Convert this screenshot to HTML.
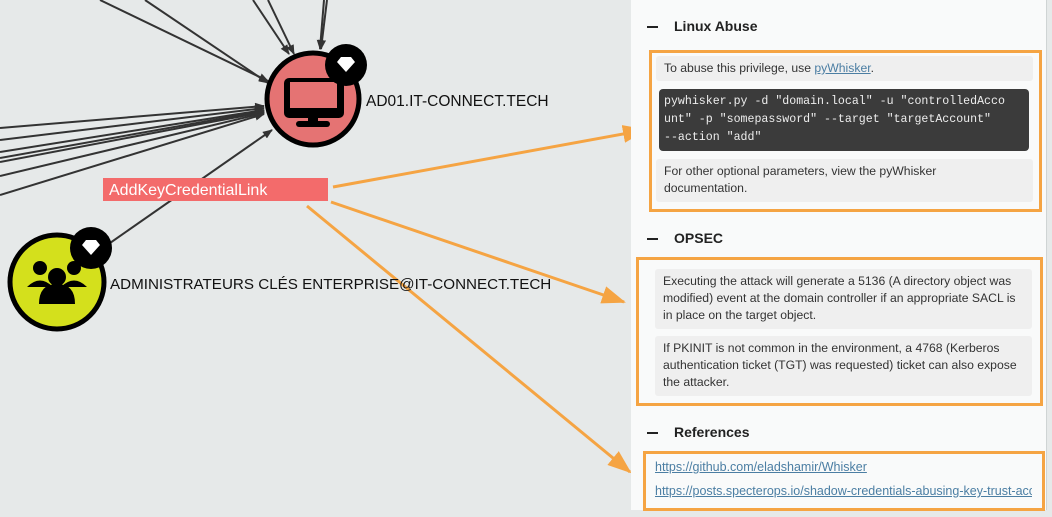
<!DOCTYPE html>
<html><head><meta charset="utf-8"><style>
body{margin:0;width:1052px;height:517px;background:#e6e9e9;position:relative;overflow:hidden;font-family:"Liberation Sans",sans-serif}
#panel{position:absolute;left:631px;top:0;width:415px;height:510px;background:#f9fafa;border-right:1px solid #cfd4d4}
.h{position:absolute;left:16px;font-weight:bold;font-size:14px;color:#222}
.h b{display:inline-block;width:11px;height:2px;background:#222;vertical-align:middle;margin-right:16px}
.ob{position:absolute;border:3px solid #f5a443;box-sizing:border-box}
.bub{position:absolute;background:#efefef;font-size:12.2px;color:#333;line-height:17px;padding:4px 8px;box-sizing:border-box;border-radius:3px}
a{color:#4b7ea3;text-decoration:underline}
.code{position:absolute;background:#3b3b3b;color:#eee;font-family:"Liberation Mono",monospace;font-size:11.6px;line-height:18px;padding:4px 5px;box-sizing:border-box;border-radius:4px;white-space:pre}
</style></head><body>
<svg width="1052" height="517" style="position:absolute;left:0;top:0">
<defs>
<marker id="a" markerWidth="10" markerHeight="8" refX="9" refY="4" orient="auto" markerUnits="userSpaceOnUse"><path d="M0,0 L10,4 L0,8z" fill="#333"/></marker>
<marker id="o" markerWidth="24" markerHeight="18" refX="22" refY="9" orient="auto" markerUnits="userSpaceOnUse"><path d="M0,0 L24,9 L0,18z" fill="#f5a443"/></marker>
</defs>
<g stroke="#333" stroke-width="2" fill="none" marker-end="url(#a)">
<line x1="100" y1="0" x2="268" y2="81"/><line x1="145" y1="0" x2="268" y2="83"/>
<line x1="253" y1="0" x2="289" y2="54"/><line x1="268" y1="0" x2="294" y2="54"/>
<line x1="324" y1="0" x2="320" y2="49"/><line x1="327" y1="0" x2="321" y2="49"/>
<line x1="0" y1="128" x2="264" y2="106"/><line x1="0" y1="140" x2="264" y2="108"/>
<line x1="0" y1="152" x2="264" y2="110"/><line x1="0" y1="158" x2="264" y2="111"/>
<line x1="0" y1="162" x2="264" y2="112"/><line x1="0" y1="176" x2="264" y2="113"/>
<line x1="0" y1="195" x2="264" y2="114"/>
<line x1="110" y1="243" x2="272" y2="130"/>
</g>
<g stroke="#f5a443" stroke-width="3" fill="none" marker-end="url(#o)">
<line x1="333" y1="187" x2="645" y2="130"/>
<line x1="331" y1="202" x2="624" y2="302"/>
<line x1="307" y1="206" x2="630" y2="472"/>
</g>
<circle cx="313" cy="99" r="46" fill="#e57373" stroke="#000" stroke-width="5"/>
<rect x="284" y="78" width="60" height="40" rx="5" fill="#000"/><rect x="290" y="82" width="47" height="26" fill="#e57373"/>
<rect x="308" y="118" width="10" height="6" fill="#000"/><rect x="296" y="121" width="34" height="6" rx="3" fill="#000"/>
<circle cx="346" cy="65" r="21" fill="#000"/><path d="M337,62 L341,57 L351,57 L355,62 L346,72z" fill="#fff"/>
<circle cx="57" cy="282" r="47" fill="#d4e01c" stroke="#000" stroke-width="5"/>
<g fill="#000"><circle cx="40" cy="268" r="7"/><circle cx="74" cy="268" r="7"/><circle cx="57" cy="277" r="9"/>
<path d="M27,287 q13,-13 26,0z"/><path d="M61,287 q13,-13 26,0z"/><path d="M39,304 q0,-20 18,-20 q18,0 18,20z"/></g>
<circle cx="91" cy="248" r="21" fill="#000"/><path d="M82,245 L86,240 L96,240 L100,245 L91,255z" fill="#fff"/>
<rect x="103" y="178" width="225" height="23" fill="#f36b6b"/>
<text x="109" y="195" fill="#fff" font-size="16" font-family="Liberation Sans">AddKeyCredentialLink</text>
<text x="366" y="106" font-size="15.5" fill="#111" font-family="Liberation Sans">AD01.IT-CONNECT.TECH</text>
<text x="110" y="289" font-size="15.2" fill="#111" font-family="Liberation Sans">ADMINISTRATEURS CLÉS ENTERPRISE@IT-CONNECT.TECH</text>
</svg>
<div id="panel">
<div class="h" style="top:18px"><b></b>Linux Abuse</div>
<div class="ob" style="left:18px;top:50px;width:393px;height:162px"></div>
<div class="bub" style="left:25px;top:56px;width:377px;height:25px">To abuse this privilege, use <a>pyWhisker</a>.</div>
<div class="code" style="left:28px;top:89px;width:370px;height:62px">pywhisker.py -d "domain.local" -u "controlledAcco
unt" -p "somepassword" --target "targetAccount"
--action "add"</div>
<div class="bub" style="left:25px;top:159px;width:377px;height:43px;padding-right:90px">For other optional parameters, view the pyWhisker documentation.</div>
<div class="h" style="top:230px"><b></b>OPSEC</div>
<div class="ob" style="left:5px;top:257px;width:407px;height:149px"></div>
<div class="bub" style="left:24px;top:269px;width:377px;height:60px">Executing the attack will generate a 5136 (A directory object was modified) event at the domain controller if an appropriate SACL is in place on the target object.</div>
<div class="bub" style="left:24px;top:336px;width:377px;height:60px">If PKINIT is not common in the environment, a 4768 (Kerberos authentication ticket (TGT) was requested) ticket can also expose the attacker.</div>
<div class="h" style="top:424px"><b></b>References</div>
<div class="ob" style="left:12px;top:451px;width:402px;height:60px"></div>
<div style="position:absolute;left:24px;top:460px;font-size:12.5px;white-space:nowrap;width:377px;overflow:hidden"><a>https://github.com/eladshamir/Whisker</a></div>
<div style="position:absolute;left:24px;top:484px;font-size:12.5px;white-space:nowrap;width:377px;overflow:hidden"><a>https://posts.specterops.io/shadow-credentials-abusing-key-trust-account-mapping</a></div>
</div>
</body></html>
